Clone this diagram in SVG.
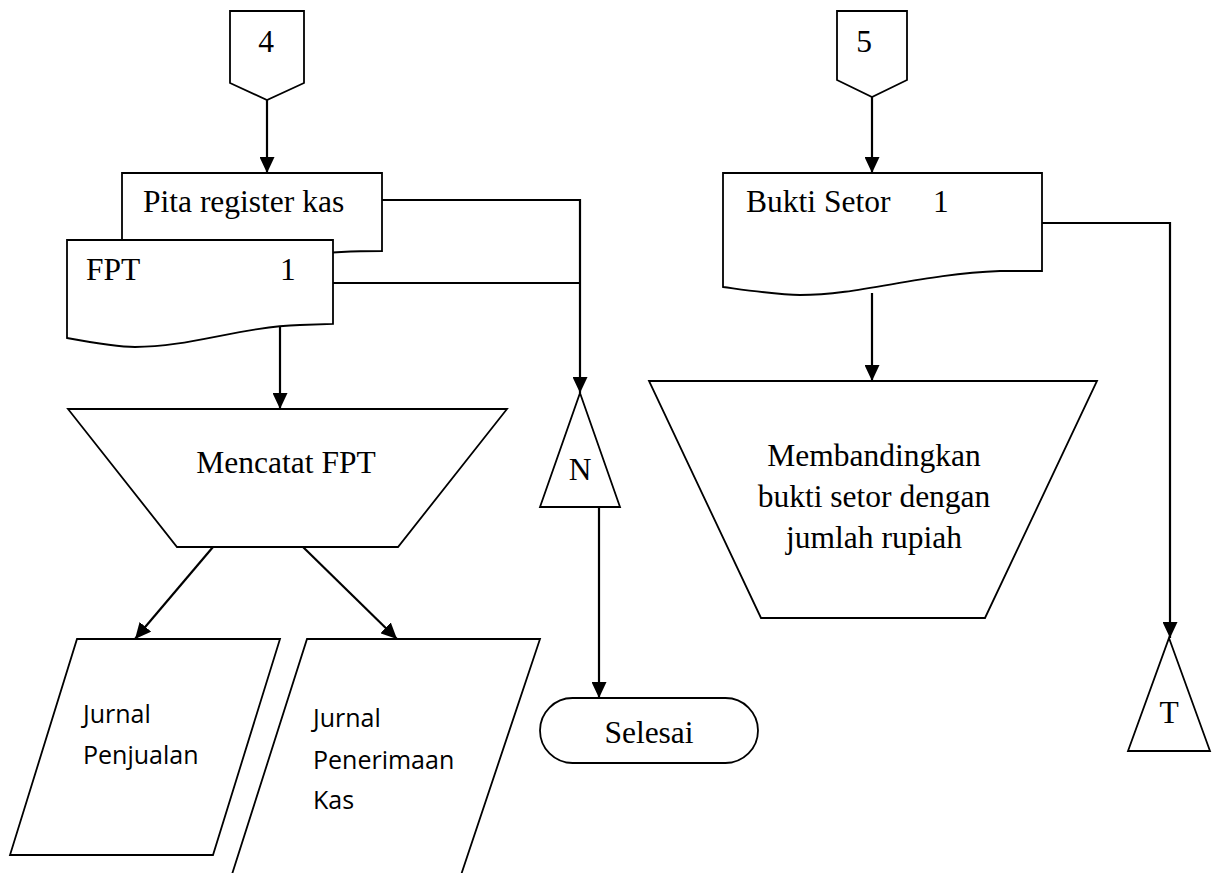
<svg xmlns="http://www.w3.org/2000/svg" width="1219" height="873" viewBox="0 0 1219 873">
<defs>
<style>
.s{fill:#fff;stroke:#000;stroke-width:1.8;stroke-linejoin:miter}
.c{fill:none;stroke:#000;stroke-width:2.2}
.t{font-family:"Liberation Serif","Times New Roman",serif;font-size:31.5px;fill:#000}
.m{text-anchor:middle}
.j{font-family:"Open Sans","Noto Sans",sans-serif;font-size:25px;fill:#000}
</style>
<marker id="ah" viewBox="0 0 16 15" refX="16" refY="7.5" markerWidth="16" markerHeight="15" markerUnits="userSpaceOnUse" orient="auto">
<path d="M0,0 L16,7.5 L0,15 Z" fill="#000"/>
</marker>
</defs>
<rect width="1219" height="873" fill="#fff"/>

<g id="off4">
<path class="s" d="M230,11 L304,11 L304,83 L267,100 L230,83 Z"/>
<text class="t m" x="266" y="52">4</text>
</g>
<g id="off5">
<path class="s" d="M837,11 L907,11 L907,80 L872,97 L837,80 Z"/>
<text class="t m" x="864" y="52">5</text>
</g>

<g id="pita">
<path class="s" d="M122,173 L382,173 L382,251 C 350,251 330,252 310,255 L122,265 Z"/>
<text class="t" x="143" y="212">Pita register kas</text>
</g>
<g id="fpt">
<path class="s" d="M67,240 L333,240 L333,324 L300,325 C 240,327 190,347 135,347 C 120,347 100,344 67,338 Z"/>
<text class="t" x="86" y="280">FPT</text>
<text class="t" x="280" y="280">1</text>
</g>
<g id="mencatat">
<path class="s" d="M68,409 L507,409 L398,547 L177,547 Z"/>
<text class="t m" x="286" y="473">Mencatat FPT</text>
</g>
<g id="jpenjualan">
<path class="s" d="M77,639 L280,639 L213,855 L10,855 Z"/>
<text class="j" x="83" y="723">Jurnal</text>
<text class="j" x="83" y="764">Penjualan</text>
</g>
<g id="jpenerimaan">
<path class="s" d="M307,639 L540,639 L456,890 L227,890 Z"/>
<text class="j" x="313" y="727">Jurnal</text>
<text class="j" x="313" y="769">Penerimaan</text>
<text class="j" x="313" y="809">Kas</text>
</g>
<g id="n">
<path class="s" d="M580,393 L620,507 L540,507 Z"/>
<text class="t m" x="580" y="480">N</text>
</g>
<g id="selesai">
<rect class="s" x="540" y="698" width="218" height="65" rx="32.5" ry="32.5"/>
<text class="t m" x="649" y="743">Selesai</text>
</g>
<g id="bukti">
<path class="s" d="M723,173 L1042,173 L1042,271 L1000,271 C 920,274 860,295 800,295 C 780,295 760,292 723,287 Z"/>
<text class="t" x="746" y="212">Bukti Setor</text>
<text class="t" x="933" y="212">1</text>
</g>
<g id="membandingkan">
<path class="s" d="M649,381 L1097,381 L985,618 L761,618 Z"/>
<text class="t m" x="874" y="466">Membandingkan</text>
<text class="t m" x="874" y="507">bukti setor dengan</text>
<text class="t m" x="874" y="548">jumlah rupiah</text>
</g>
<g id="t">
<path class="s" d="M1169,638 L1210,751 L1128,751 Z"/>
<text class="t m" x="1169" y="723">T</text>
</g>

<g id="connectors">
<path class="c" d="M267,100 L267,173" marker-end="url(#ah)"/>
<path class="c" d="M382,200 L580,200 L580,393" marker-end="url(#ah)"/>
<path class="c" d="M333,283 L580,283"/>
<path class="c" d="M280,327 L280,409" marker-end="url(#ah)"/>
<path class="c" d="M213,547 L135,639" marker-end="url(#ah)"/>
<path class="c" d="M303,547 L397,639" marker-end="url(#ah)"/>
<path class="c" d="M599,507 L599,698" marker-end="url(#ah)"/>
<path class="c" d="M872,97 L872,173" marker-end="url(#ah)"/>
<path class="c" d="M872,293 L872,381" marker-end="url(#ah)"/>
<path class="c" d="M1042,223 L1170,223 L1170,638" marker-end="url(#ah)"/>
</g>
</svg>
